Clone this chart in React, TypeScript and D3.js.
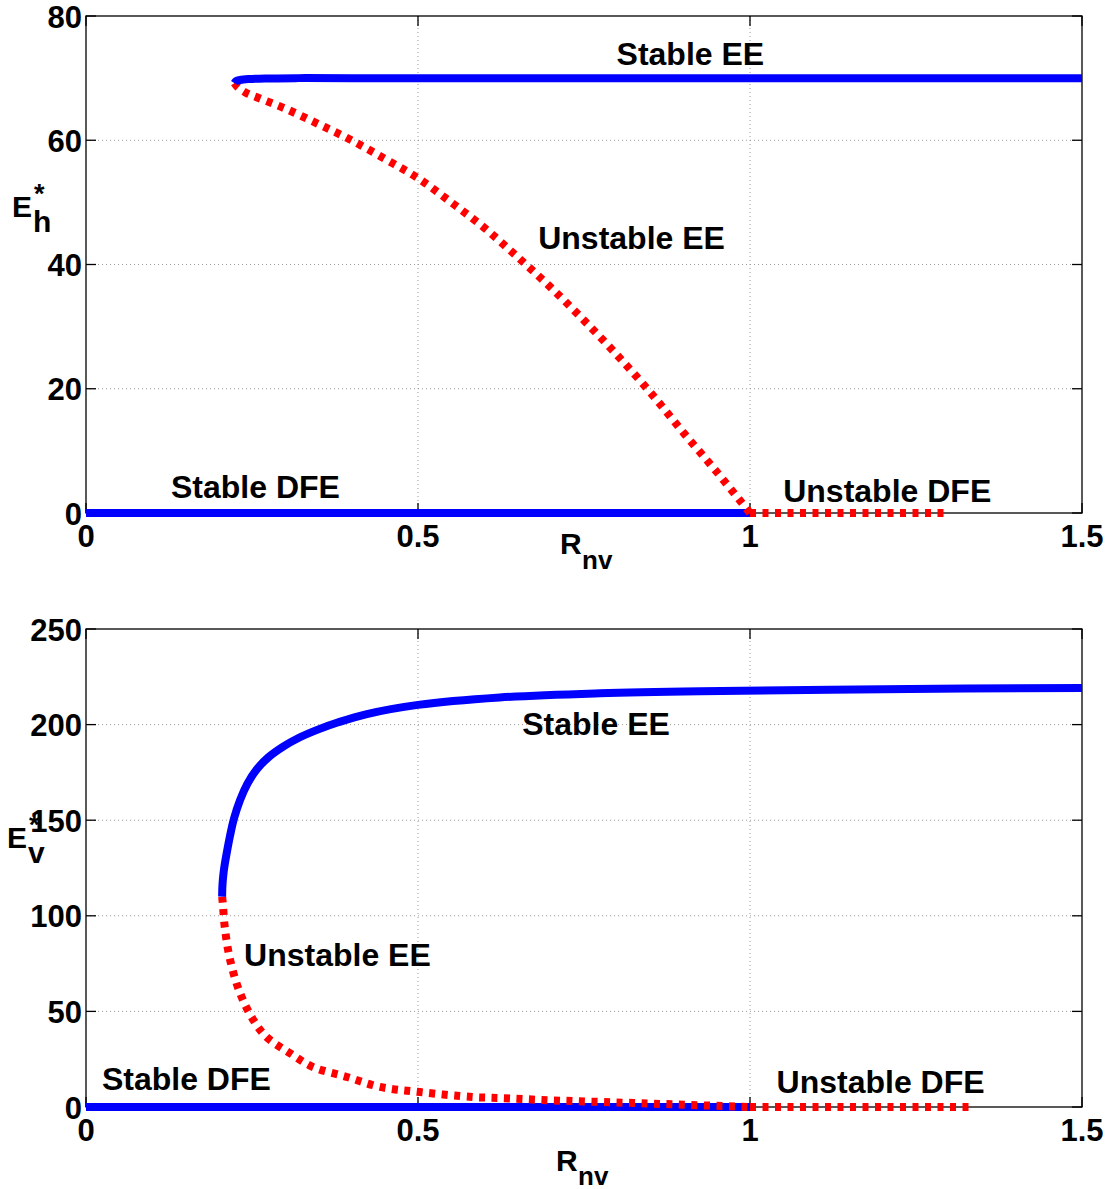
import React from 'react';
import * as d3 from 'd3';

// ---------- data ----------
const xTicks = [0, 0.5, 1, 1.5];
const xTickLabels = ['0', '0.5', '1', '1.5'];
const topYTicks = [0, 20, 40, 60, 80];
const bottomYTicks = [0, 50, 100, 150, 200, 250];

// Top panel (E_h*)
const topStableEEx = [0.2235, 0.226, 0.232, 0.245, 0.27, 0.32, 0.4, 0.7, 1.0, 1.5];
const topStableEEy = [69.2, 69.5, 69.7, 69.85, 69.95, 70.0, 70.0, 70.0, 70.0, 70.0];
const topUnstableEEx = [0.2235, 0.228, 0.24, 0.26, 0.3, 0.35, 0.4, 0.45, 0.5, 0.55, 0.6, 0.65, 0.7, 0.75, 0.8, 0.85, 0.9, 0.95, 1.0];
const topUnstableEEy = [69.2, 68.6, 67.7, 66.8, 65.1, 62.6, 60.0, 57.0, 53.9, 50.0, 45.9, 41.2, 36.3, 31.0, 25.4, 19.4, 12.9, 6.6, 0];
const topStableDFEx = [0, 1];
const topStableDFEy = [0, 0];
const topUnstableDFEx = [1, 1.3];
const topUnstableDFEy = [0, 0];

// Bottom panel (E_v*)
const botStableEEx = [0.205, 0.2055, 0.207, 0.209, 0.212, 0.217, 0.223, 0.232, 0.243, 0.257, 0.275, 0.297, 0.32, 0.35, 0.38, 0.423, 0.5, 0.623, 0.774, 0.925, 1.2, 1.5];
const botStableEEy = [110, 116, 122, 127, 133, 142, 151, 160.5, 169, 176.5, 183, 188.5, 193, 197.5, 201.2, 205.5, 210.3, 214.2, 216.4, 217.5, 218.5, 219.2];
const botUnstableEEx = [0.205, 0.206, 0.209, 0.217, 0.232, 0.252, 0.272, 0.307, 0.342, 0.393, 0.443, 0.503, 0.583, 0.623, 0.7, 0.824, 0.9, 1.0];
const botUnstableEEy = [110, 106.7, 94, 77, 59.6, 45.5, 36.6, 28.2, 20.9, 15.7, 10.5, 7.8, 5.2, 4.7, 3.5, 2.1, 1.2, 0];
const botStableDFEx = [0, 1];
const botStableDFEy = [0, 0];
const botUnstableDFEx = [1, 1.335];
const botUnstableDFEy = [0, 0];

// annotations: [text, x (data), y baseline (data)]
const topLabels: [string, number, number][] = [
  ['Stable EE', 0.799, 72.1],
  ['Unstable EE', 0.681, 42.5],
  ['Stable DFE', 0.128, 2.4],
  ['Unstable DFE', 1.05, 1.8],
];
const botLabels: [string, number, number][] = [
  ['Stable EE', 0.657, 194.6],
  ['Unstable EE', 0.238, 73.7],
  ['Stable DFE', 0.024, 8.9],
  ['Unstable DFE', 1.04, 7.2],
];

const FONT = "'Liberation Sans', Arial, Helvetica, sans-serif";
const BLUE = '#0000ff';
const RED = '#ff0000';

type Series = { xs: number[]; ys: number[]; kind: 'stable' | 'unstable' };

function zip(xs: number[], ys: number[]): [number, number][] {
  return xs.map((x, i) => [x, ys[i]]);
}

function Panel(props: {
  top: number;
  bottom: number;
  yMax: number;
  yTicks: number[];
  series: Series[];
  labels: [string, number, number][];
  ySub: string;
  yLabelPos: { x: number; base: number; starBase: number; subBase: number; subX: number };
  xLabelPos: { x: number; base: number; subBase: number };
}) {
  const left = 86;
  const right = 1082;
  const x = d3.scaleLinear().domain([0, 1.5]).range([left, right]);
  const y = d3.scaleLinear().domain([0, props.yMax]).range([props.bottom, props.top]);
  const line = d3
    .line<[number, number]>()
    .x((d) => x(d[0]))
    .y((d) => y(d[1]))
    .curve(d3.curveCatmullRom.alpha(0.5));
  const tickLen = 10;
  const gridColor = '#9a9a9a';
  return (
    <g>
      {/* grid */}
      {props.yTicks
        .filter((t) => t !== 0 && t !== props.yMax)
        .map((t) => (
          <line key={'gy' + t} x1={left} x2={right} y1={y(t)} y2={y(t)} stroke={gridColor} strokeWidth={1} strokeDasharray="1 3" />
        ))}
      {xTicks
        .filter((t) => t !== 0 && t !== 1.5)
        .map((t) => (
          <line key={'gx' + t} x1={x(t)} x2={x(t)} y1={props.top} y2={props.bottom} stroke={gridColor} strokeWidth={1} strokeDasharray="1 3" />
        ))}
      {/* box */}
      <rect x={left} y={props.top} width={right - left} height={props.bottom - props.top} fill="none" stroke="#000" strokeWidth={1.3} />
      {/* ticks */}
      {props.yTicks.map((t) => (
        <g key={'ty' + t}>
          <line x1={left} x2={left + tickLen} y1={y(t)} y2={y(t)} stroke="#000" strokeWidth={1.3} />
          <line x1={right} x2={right - tickLen} y1={y(t)} y2={y(t)} stroke="#000" strokeWidth={1.3} />
          <text x={left - 4} y={y(t) + 11.5} textAnchor="end" fontFamily={FONT} fontWeight="bold" fontSize={31}>
            {t}
          </text>
        </g>
      ))}
      {xTicks.map((t, i) => (
        <g key={'tx' + t}>
          <line x1={x(t)} x2={x(t)} y1={props.bottom} y2={props.bottom - tickLen} stroke="#000" strokeWidth={1.3} />
          <line x1={x(t)} x2={x(t)} y1={props.top} y2={props.top + tickLen} stroke="#000" strokeWidth={1.3} />
          <text x={x(t)} y={props.bottom + 34} textAnchor="middle" fontFamily={FONT} fontWeight="bold" fontSize={31}>
            {xTickLabels[i]}
          </text>
        </g>
      ))}
      {/* data */}
      {props.series.map((s, i) => (
        <path
          key={'s' + i}
          d={line(zip(s.xs, s.ys)) || ''}
          fill="none"
          stroke={s.kind === 'stable' ? BLUE : RED}
          strokeWidth={8}
          strokeDasharray={s.kind === 'stable' ? undefined : '6 6.5'}
          strokeLinecap="butt"
        />
      ))}
      {/* annotations */}
      {props.labels.map(([t, lx, ly]) => (
        <text key={t} x={x(lx)} y={y(ly)} fontFamily={FONT} fontWeight="bold" fontSize={32}>
          {t}
        </text>
      ))}
      {/* y label */}
      <text x={props.yLabelPos.x} y={props.yLabelPos.base} fontFamily={FONT} fontWeight="bold" fontSize={30}>
        E
      </text>
      <text x={props.yLabelPos.subX + 1} y={props.yLabelPos.starBase} fontFamily={FONT} fontWeight="bold" fontSize={27}>
        *
      </text>
      <text x={props.yLabelPos.subX} y={props.yLabelPos.subBase} fontFamily={FONT} fontWeight="bold" fontSize={30}>
        {props.ySub}
      </text>
      {/* x label */}
      <text x={props.xLabelPos.x} y={props.xLabelPos.base} fontFamily={FONT} fontWeight="bold" fontSize={30}>
        R
      </text>
      <text x={props.xLabelPos.x + 22} y={props.xLabelPos.subBase} fontFamily={FONT} fontWeight="bold" fontSize={26}>
        nv
      </text>
    </g>
  );
}

export default function App() {
  const topSeries: Series[] = [
    { xs: topStableDFEx, ys: topStableDFEy, kind: 'stable' },
    { xs: topUnstableDFEx, ys: topUnstableDFEy, kind: 'unstable' },
    { xs: topUnstableEEx, ys: topUnstableEEy, kind: 'unstable' },
    { xs: topStableEEx, ys: topStableEEy, kind: 'stable' },
  ];
  const botSeries: Series[] = [
    { xs: botStableDFEx, ys: botStableDFEy, kind: 'stable' },
    { xs: botUnstableDFEx, ys: botUnstableDFEy, kind: 'unstable' },
    { xs: botUnstableEEx, ys: botUnstableEEy, kind: 'unstable' },
    { xs: botStableEEx, ys: botStableEEy, kind: 'stable' },
  ];
  return (
    <div style={{ position: 'absolute', left: 0, top: 0 }}>
      <svg width={1116} height={1189} style={{ display: 'block', background: '#fff' }}>
        <Panel
          top={16}
          bottom={513}
          yMax={80}
          yTicks={topYTicks}
          series={topSeries}
          labels={topLabels}
          ySub="h"
          yLabelPos={{ x: 12, base: 217, starBase: 203, subBase: 232, subX: 33 }}
          xLabelPos={{ x: 560, base: 554, subBase: 569 }}
        />
        <Panel
          top={629}
          bottom={1107}
          yMax={250}
          yTicks={bottomYTicks}
          series={botSeries}
          labels={botLabels}
          ySub="v"
          yLabelPos={{ x: 7, base: 848, starBase: 834, subBase: 863, subX: 28 }}
          xLabelPos={{ x: 556, base: 1171, subBase: 1185 }}
        />
      </svg>
    </div>
  );
}
